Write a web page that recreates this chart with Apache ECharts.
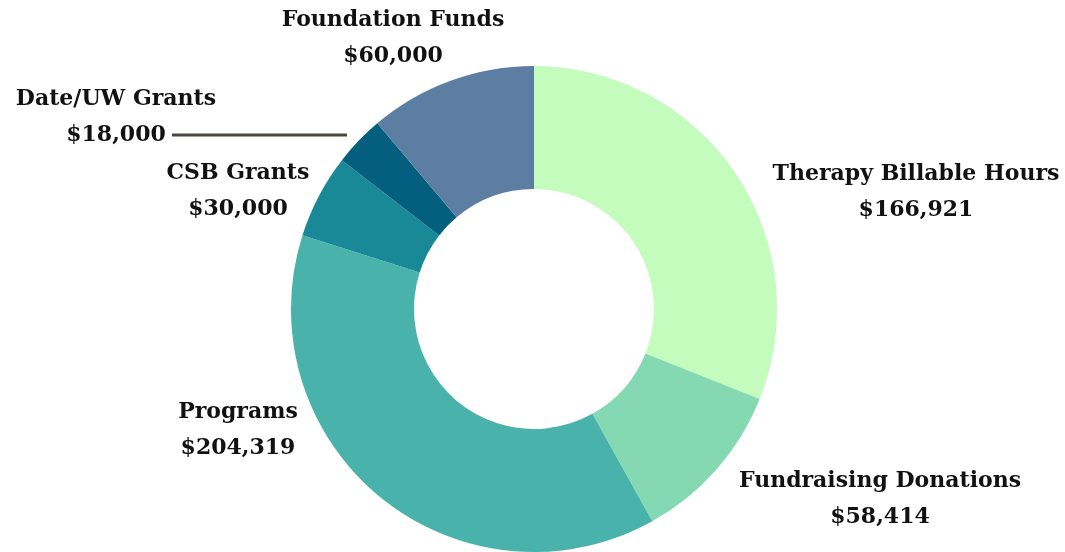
<!DOCTYPE html>
<html>
<head>
<meta charset="utf-8">
<script src="https://cdn.jsdelivr.net/npm/echarts@6/dist/echarts.min.js"></script>
<style>
  html, body { margin: 0; padding: 0; background: #fff; }
  #chart { width: 1065px; height: 552px; }
</style>
</head>
<body>
<div id="chart"></div>
<script>
// revenue sources, clockwise from the top
const names = ['Therapy Billable Hours', 'Fundraising Donations', 'Programs', 'CSB Grants', 'Date/UW Grants', 'Foundation Funds']
const values = [166921, 58414, 204319, 30000, 18000, 60000]
const colors = ['#c4fcbd', '#84d9b3', '#49b2aa', '#198997', '#045f7e', '#5c7ea3']

// where each label block sits (center of the two lines)
const labelPos = {
    'Therapy Billable Hours': [916, 192],
    'Fundraising Donations': [880, 499],
    'Programs': [238, 430],
    'CSB Grants': [238, 191],
    'Date/UW Grants': [116, 117],
    'Foundation Funds': [393, 38]
}

let chart = echarts.init(document.getElementById('chart'))
let options = {
    animation: false,
    textStyle: {
        fontFamily: 'DejaVu Serif'
    },
    series: [{
        type: 'pie',
        center: [534, 309],
        radius: [120, 243],
        startAngle: 90,
        clockwise: true,
        avoidLabelOverlap: false,
        data: names.map((n, i) => {
            let item = { name: n, value: values[i], itemStyle: { color: colors[i] } }
            if (n === 'Date/UW Grants') {
                item.labelLine = { show: true }
            }
            return item
        }),
        label: {
            show: true,
            position: 'outside',
            color: '#111',
            fontWeight: 'bold',
            fontSize: 22,
            lineHeight: 36,
            align: 'center',
            formatter: (p) => p.name + '\n$' + p.value.toLocaleString('en-US')
        },
        labelLine: {
            show: false,
            lineStyle: { color: '#4d4640', width: 3 }
        },
        labelLayout: (params) => {
            let name = names[params.dataIndex]
            let pos = labelPos[name]
            let res = { x: pos[0], y: pos[1], align: 'center', verticalAlign: 'middle' }
            if (name === 'Date/UW Grants') {
                res.labelLinePoints = [[347, 135], [260, 135], [172, 135]]
            }
            return res
        }
    }]
}
chart.setOption(options)
</script>
</body>
</html>
